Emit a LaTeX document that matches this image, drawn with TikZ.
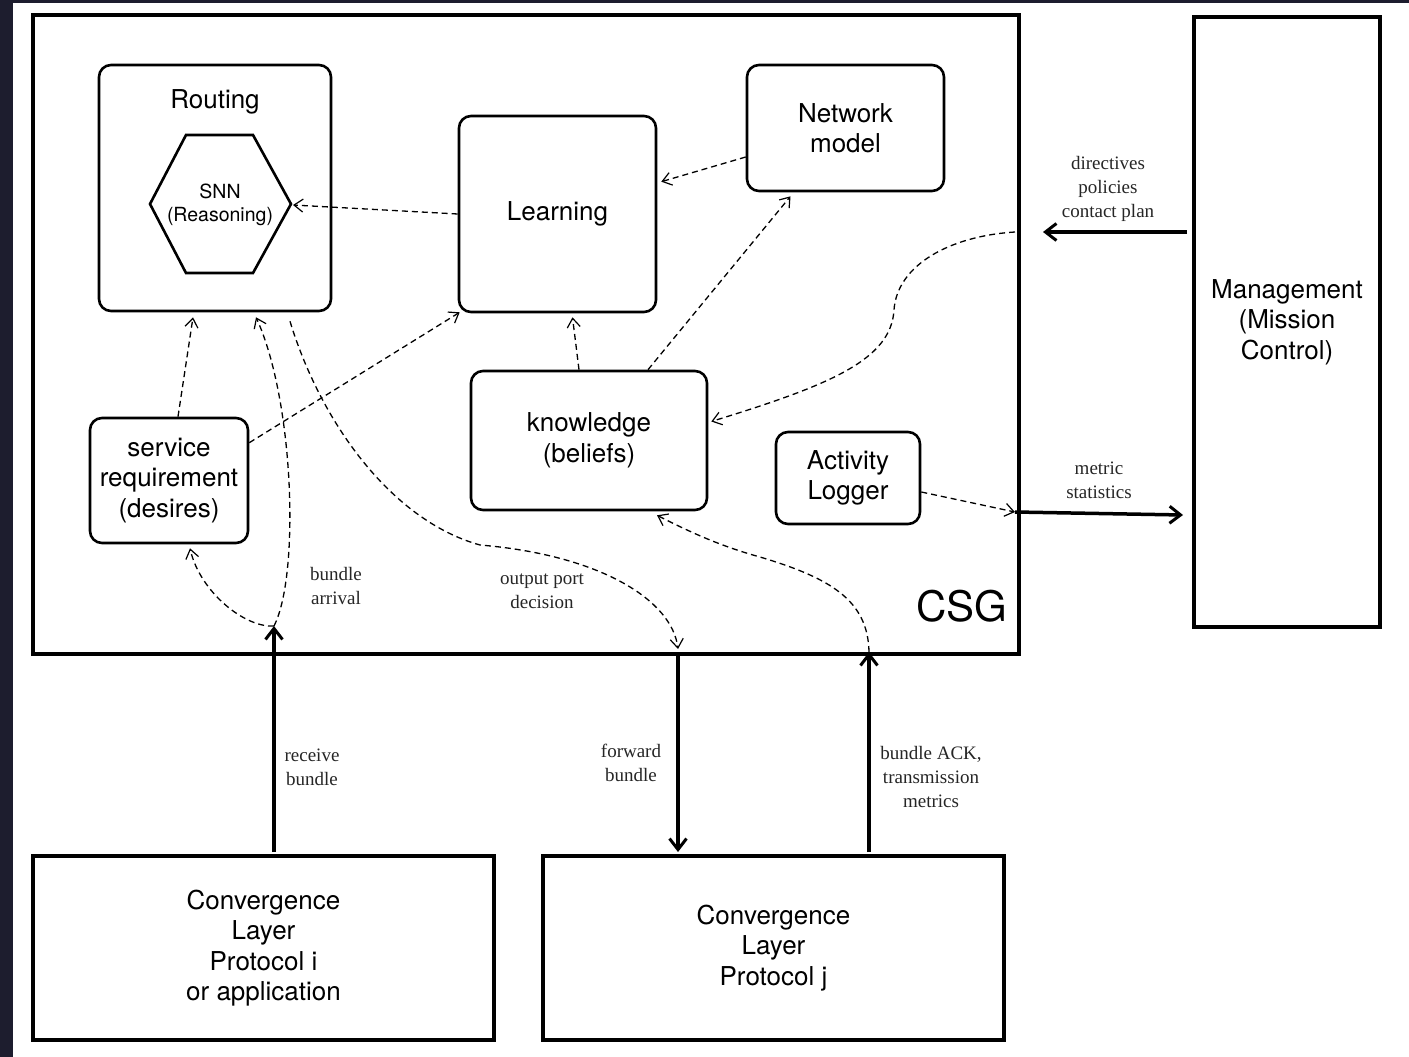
\documentclass[tikz,border=0pt]{standalone}
\usepackage{fontspec}
\setmainfont{Liberation Serif}
\setsansfont{TeX Gyre Heros}
\usepackage{tikz}
\usetikzlibrary{arrows.meta,calc}
\definecolor{slate}{RGB}{29,29,46}

\begin{document}
\begin{tikzpicture}[
  x=1pt,y=-1pt,
  blk/.style={draw,line width=2.6pt,rounded corners=12pt,align=center,font=\sffamily\fontsize{26}{30.5}\selectfont,inner sep=0pt},
  sq/.style={draw,line width=4pt,outer sep=0pt,align=center,font=\sffamily\fontsize{26}{30.5}\selectfont,inner sep=0pt},
  lbl/.style={align=center,font=\fontsize{19}{24}\selectfont,text=black!85},
  dar/.style={-{Straight Barb[length=9pt,width=13pt,line width=1.2pt]},line width=1.3pt,dash pattern=on 6pt off 4pt},
  ar/.style={-{Straight Barb[length=11pt,width=17pt,line width=3pt]},line width=3.5pt}
]
\useasboundingbox (0,0) rectangle (1409,1057);
\fill[slate] (0,0) rectangle (1409,1057);
\fill[white] (13,3) rectangle (1409,1057);

% ---- outer boxes
\node[sq,minimum width=986,minimum height=639] (csg) at (526,334.5) {};
\node[sq,minimum width=186,minimum height=610] (mgmt) at (1287,322) {Management\\(Mission\\Control)};
\node[sq,minimum width=461,minimum height=184] (cli) at (263.5,948) {Convergence\\Layer\\Protocol i\\or application};
\node[sq,minimum width=461,minimum height=184] (clj) at (773.5,948) {Convergence\\Layer\\Protocol j};
\node[font=\sffamily\fontsize{42}{48}\selectfont] (csgtxt) at (962,606) {CSG};

% ---- inner blocks
\node[blk,minimum width=232,minimum height=246] (routing) at (215,188) {};
\node[font=\sffamily\fontsize{26}{30.5}\selectfont] (routtxt) at (215,102) {Routing};
\node[align=center,font=\sffamily\fontsize{19.5}{23}\selectfont] (snn) at (220,205) {SNN\\(Reasoning)};
\draw[line width=2.6pt,line join=miter] (186,135) -- (253,135) -- (291,204) -- (253,273) -- (186,273) -- (150,204) -- cycle;
\coordinate (snnE) at (293,205);
\node[blk,minimum width=197,minimum height=196] (learning) at (557.5,214) {Learning};
\node[blk,minimum width=197,minimum height=126] (netmodel) at (845.5,128) {Network\\model};
\node[blk,minimum width=158,minimum height=125] (svc) at (169,480.5) {service\\requirement\\(desires)};
\node[blk,minimum width=236,minimum height=139] (know) at (589,440.5) {knowledge\\(beliefs)};
\node[blk,minimum width=144,minimum height=92] (logger) at (848,478) {Activity\\Logger};

% ---- points on the CSG border
\coordinate (ba) at ($(cli.north)+(10.5,-230)$);
\coordinate (fwdtop) at ($(csg.south west)+(645,0)$);
\coordinate (outport) at ($(fwdtop)+(0,-5)$);
\coordinate (ackp) at ($(clj.north)+(95.5,-204)$);
\coordinate (dirp) at ($(csg.north east)+(-4,217)$);
\coordinate (statp) at ($(csg.north east)+(-4,497)$);

% ---- dashed internal flows
\draw[dar] (learning.west) -- (snnE);
\draw[dar] ($(netmodel.west)+(0,29)$) -- ($(learning.north east)+(4,67)$);
\draw[dar] ($(know.north)+(-10,0)$) -- ($(learning.south)+(15,4)$);
\draw[dar] ($(know.north)+(59,0)$) -- ($(netmodel.south)+(-55,4)$);
\draw[dar] ($(svc.north)+(9,0)$) -- ($(routing.south)+(-22,5)$);
\draw[dar] ($(svc.north east)+(0,26)$) -- ($(learning.south west)+(2,-1)$);
\draw[dar] (ba) .. controls (300,575) and (294,400) .. ($(routing.south)+(41,5)$);
\draw[dar] (ba) .. controls (245,628) and (200,592) .. ($(svc.south)+(21,4)$);
\draw[dar] ($(routing.south)+(75,9)$) .. controls (320,420) and (390,520) .. (480,545)
  .. controls (600,555) and (672,600) .. (outport);
\draw[dar] (ackp) .. controls (868,600) and (830,578) .. (760,557)
  .. controls (720,546) and (690,532) .. ($(know.south)+(68,4)$);
\draw[dar] (dirp) .. controls (950,236) and (897,265) .. (894,310)
  .. controls (891,360) and (830,385) .. ($(know.east)+(3,-19)$);
\draw[dar] ($(logger.east)+(0,14)$) -- (statp);

% ---- solid external flows
\draw[ar] ($(mgmt.west)+(-7,-90)$) -- ($(csg.north east)+(24,217)$);
\draw[ar] (statp) -- ($(mgmt.west)+(-11,193)$);
\draw[ar] ($(cli.north)+(10.5,-4)$) -- (ba);
\draw[ar] (fwdtop) -- ($(clj.north)+(-95.5,-4)$);
\draw[ar] ($(clj.north)+(95.5,-4)$) -- (ackp);

% ---- labels
\node[lbl] (lbarr) at (336,586) {bundle\\arrival};
\node[lbl] (lbout) at (542,591) {output port\\decision};
\node[lbl] (lbdir) at (1108,189) {directives\\policies\\contact plan};
\node[lbl] (lbmet) at (1099,480) {metric\\statistics};
\node[lbl] (lbrcv) at (312,767) {receive\\bundle};
\node[lbl] (lbfwd) at (631,763) {forward\\bundle};
\node[lbl] (lback) at (931,777) {bundle ACK,\\transmission\\metrics};
\end{tikzpicture}
\end{document}
